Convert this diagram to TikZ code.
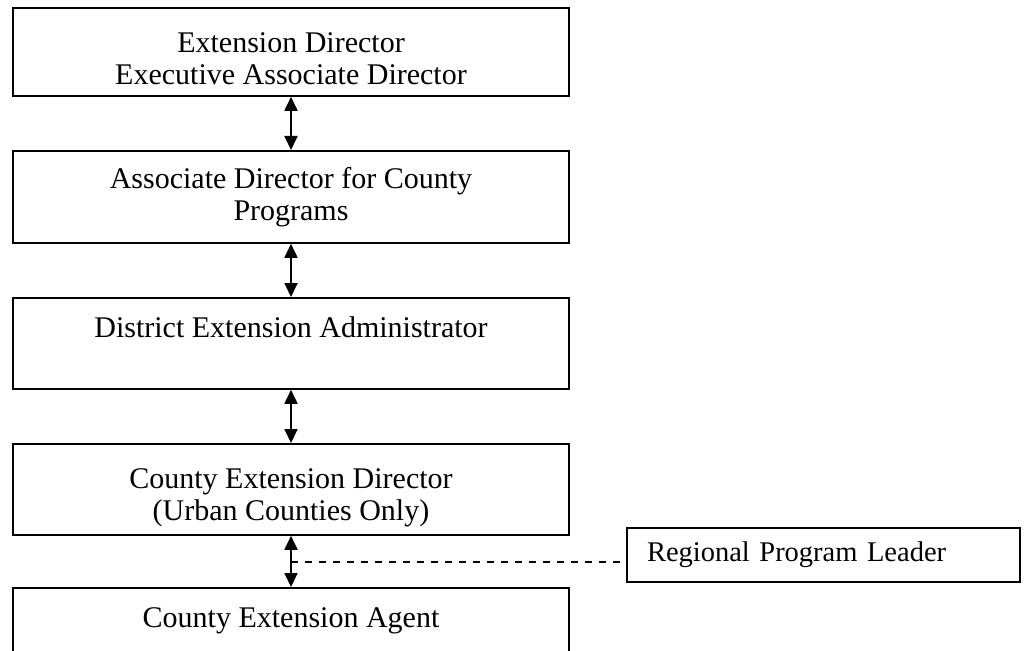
\documentclass[tikz,border=0pt]{standalone}
\usepackage{fontspec}
\setmainfont{Liberation Serif}
\usetikzlibrary{arrows.meta,calc}
\newcommand\mytopstrut[1]{\rule{0pt}{#1}}
\begin{document}
\begin{tikzpicture}[x=1bp,y=-1bp,
  box/.style={draw, line width=1.8bp, minimum width=556bp, inner sep=0pt, align=center,
    font=\fontsize{30bp}{32bp}\selectfont, anchor=north},
  link/.style={line width=1.8bp, {Triangle[length=14bp,width=13bp]}-{Triangle[length=14bp,width=13bp]}},
  side/.style={draw, line width=1.8bp, minimum width=393bp, minimum height=54bp, text width=353bp,
    inner xsep=20bp, inner ysep=0pt, align=left, font=\fontsize{28.5bp}{31bp}\selectfont},
  dashline/.style={line width=1.5bp, dash pattern=on 7bp off 7bp}]
\clip (0,0) rectangle (1028,651);
\node[box, minimum height=88bp] (b1) at (291,7) {\mytopstrut{34bp}Extension Director\\Executive Associate Director};
\node[box, minimum height=92bp] (b2) at (291,150) {Associate Director for County\\Programs};
\node[box, minimum height=91bp] (b3) at (291,297) {District Extension Administrator\\\mbox{}};
\node[box, minimum height=91bp] (b4) at (291,443) {\mytopstrut{36bp}County Extension Director\\(Urban Counties Only)};
\node[box, minimum height=91bp] (b5) at (291,587) {County Extension Agent\\\mbox{}};
\node[side] (r) at (823.5,555) {Regional Program Leader};
\draw[link] (b1.south) -- (b2.north);
\draw[link] (b2.south) -- (b3.north);
\draw[link] (b3.south) -- (b4.north);
\draw[link] (b4.south) -- (b5.north);
\coordinate (j) at (291,562);
\draw[dashline] (j) -- (j -| r.west);
\end{tikzpicture}
\end{document}
